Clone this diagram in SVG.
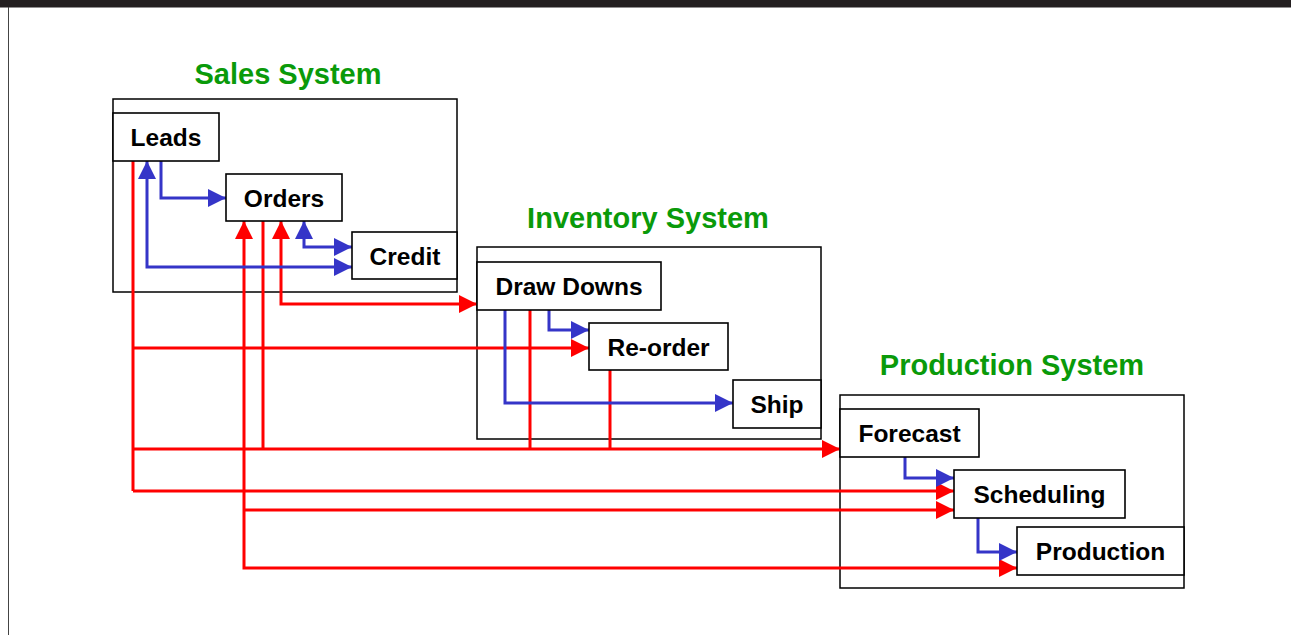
<svg xmlns="http://www.w3.org/2000/svg" width="1291" height="635" viewBox="0 0 1291 635">
<style>
.sys{fill:#fff;stroke:#000;stroke-width:1.5}
.node{fill:#fff;stroke:#000;stroke-width:1.6}
.lbl{font-family:"Liberation Sans",Arial,sans-serif;font-weight:bold;font-size:24.5px;fill:#000;text-anchor:middle}
.ttl{font-family:"Liberation Sans",Arial,sans-serif;font-weight:bold;font-size:29px;fill:#0a9a0a;text-anchor:middle}
.r{fill:none;stroke:#ff0000;stroke-width:3}
.b{fill:none;stroke:#3535c8;stroke-width:3}
</style>
<defs>
<marker id="ar" viewBox="0 0 10 10" refX="10" refY="5" markerWidth="6" markerHeight="6" orient="auto-start-reverse"><path d="M0,0 L10,5 L0,10 z" fill="#ff0000"/></marker>
<marker id="ab" viewBox="0 0 10 10" refX="10" refY="5" markerWidth="6" markerHeight="6" orient="auto-start-reverse"><path d="M0,0 L10,5 L0,10 z" fill="#3535c8"/></marker>
</defs>
<rect x="0" y="0" width="1291" height="635" fill="#fff"/>
<rect x="0" y="0" width="1291" height="7.5" fill="#231f20"/>
<line x1="8.5" y1="7" x2="8.5" y2="635" stroke="#444" stroke-width="1"/>

<g id="systems">
<rect class="sys" x="113" y="99" width="344" height="193"/>
<rect class="sys" x="477" y="247" width="344" height="192"/>
<rect class="sys" x="840" y="395" width="344" height="193"/>
<text class="ttl" x="288" y="84">Sales System</text>
<text class="ttl" x="648" y="228">Inventory System</text>
<text class="ttl" x="1012" y="375">Production System</text>
</g>

<g id="connectors">
<!-- red -->
<path class="r" d="M133,161 V491"/>
<path class="r" d="M133,348 H589" marker-end="url(#ar)"/>
<path class="r" d="M133,449 H840" marker-end="url(#ar)"/>
<path class="r" d="M133,491 H954" marker-end="url(#ar)"/>
<path class="r" d="M244,221 V568 H1017" marker-start="url(#ar)" marker-end="url(#ar)"/>
<path class="r" d="M244,510 H954" marker-end="url(#ar)"/>
<path class="r" d="M263,221 V449"/>
<path class="r" d="M281,221 V304 H477" marker-start="url(#ar)" marker-end="url(#ar)"/>
<path class="r" d="M530,310 V449"/>
<path class="r" d="M610,370 V449"/>
<!-- blue -->
<path class="b" d="M161,161 V198 H226" marker-end="url(#ab)"/>
<path class="b" d="M147,161 V267 H352" marker-start="url(#ab)" marker-end="url(#ab)"/>
<path class="b" d="M304,221 V247 H352" marker-start="url(#ab)" marker-end="url(#ab)"/>
<path class="b" d="M549,310 V330 H589" marker-end="url(#ab)"/>
<path class="b" d="M505,310 V403 H733" marker-end="url(#ab)"/>
<path class="b" d="M905,457 V478 H954" marker-end="url(#ab)"/>
<path class="b" d="M978,518 V552 H1017" marker-end="url(#ab)"/>
</g>

<g id="leads"><rect class="node" x="113" y="113" width="106" height="48"/><text class="lbl" x="166" y="146">Leads</text></g>
<g id="orders"><rect class="node" x="226" y="174" width="116" height="47"/><text class="lbl" x="284" y="206.5">Orders</text></g>
<g id="credit"><rect class="node" x="352" y="232" width="105" height="47"/><text class="lbl" x="405" y="264.5">Credit</text></g>
<g id="drawdowns"><rect class="node" x="477" y="262" width="184" height="48"/><text class="lbl" x="569" y="295">Draw Downs</text></g>
<g id="reorder"><rect class="node" x="589" y="323" width="139" height="47"/><text class="lbl" x="658.5" y="355.5">Re-order</text></g>
<g id="ship"><rect class="node" x="733" y="380" width="88" height="48"/><text class="lbl" x="777" y="413">Ship</text></g>
<g id="forecast"><rect class="node" x="840" y="409" width="139" height="48"/><text class="lbl" x="909.5" y="442">Forecast</text></g>
<g id="scheduling"><rect class="node" x="954" y="470" width="171" height="48"/><text class="lbl" x="1039.5" y="503">Scheduling</text></g>
<g id="production"><rect class="node" x="1017" y="527" width="167" height="48"/><text class="lbl" x="1100.5" y="560">Production</text></g>
</svg>
